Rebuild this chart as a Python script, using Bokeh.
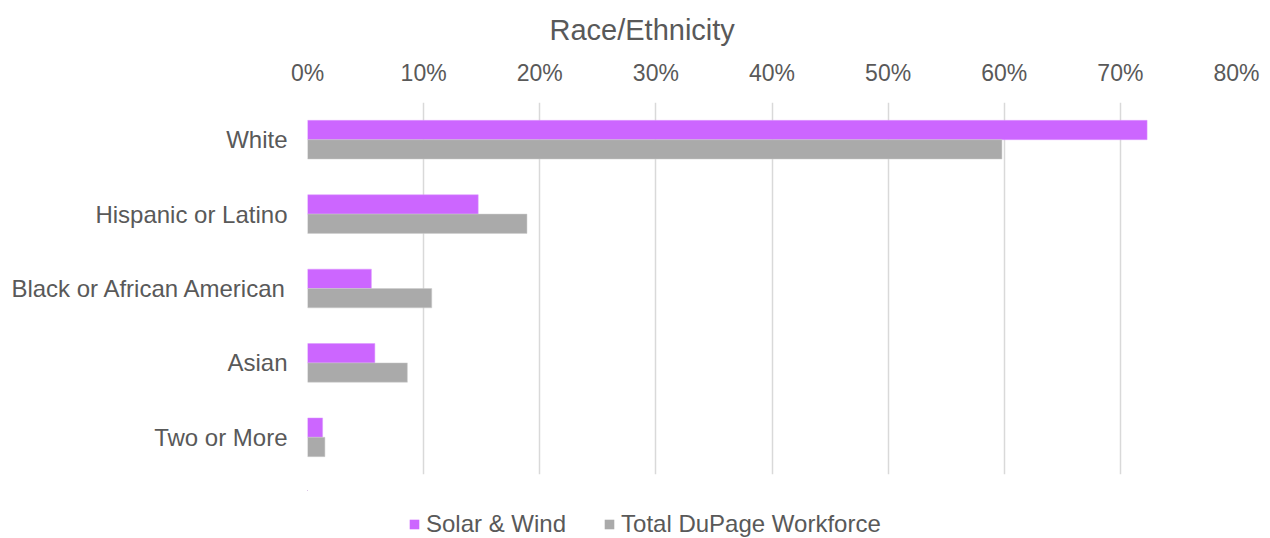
from bokeh.plotting import figure
from bokeh.layouts import column
from bokeh.models import ColumnDataSource, FixedTicker, NumeralTickFormatter, Range1d, Legend, LegendItem
from bokeh.transform import dodge
from bokeh.embed import file_html
from bokeh.resources import INLINE

categories = ["White", "Hispanic or Latino", "Black or African American", "Asian", "Two or More"]
solar_wind = [0.723, 0.147, 0.055, 0.058, 0.013]
total_dupage = [0.598, 0.189, 0.107, 0.086, 0.015]
ticks = [0.0, 0.1, 0.2, 0.3, 0.4, 0.5, 0.6, 0.7, 0.8]
series_names = ["Solar & Wind", "Total DuPage Workforce"]
series_fields = ["solar", "total"]
series_colors = ["#CC66FF", "#AAAAAA"]

src = ColumnDataSource(dict(cat=categories, solar=solar_wind, total=total_dupage))

FONT = "Liberation Sans"
TXT = "#595959"

p = figure(width=1262, height=490, y_range=list(reversed(categories)),
           x_range=Range1d(0, 0.8), x_axis_location="above",
           output_backend="svg", toolbar_location=None,
           min_border_left=307, min_border_right=26, min_border_top=102, min_border_bottom=16)
p.outline_line_color = None
p.title.text = "Race/Ethnicity"
p.title.align = "left"
p.title.offset = 242
p.title.standoff = 22
p.title.text_font = FONT
p.title.text_font_size = "29px"
p.title.text_font_style = "normal"
p.title.text_color = TXT

p.hbar(y=dodge("cat", 0.13, range=p.y_range), right="solar", height=0.26, left=0,
       source=src, fill_color=series_colors[0], line_color="#DD99FF", line_width=0.5)
p.hbar(y=dodge("cat", -0.13, range=p.y_range), right="total", height=0.26, left=0,
       source=src, fill_color=series_colors[1], line_color="#CCCCCC", line_width=0.5)

xa = p.xaxis[0]
xa.ticker = FixedTicker(ticks=ticks)
xa.formatter = NumeralTickFormatter(format="0%")
xa.axis_line_color = None
xa.major_tick_line_color = None
xa.minor_tick_line_color = None
xa.major_label_text_font = FONT
xa.major_label_text_font_size = "23px"
xa.major_label_text_color = TXT
xa.major_label_standoff = 11

ya = p.yaxis[0]
ya.axis_line_color = None
ya.major_tick_line_color = None
ya.minor_tick_line_color = None
ya.major_label_text_font = FONT
ya.major_label_text_font_size = "24px"
ya.major_label_text_color = TXT
ya.major_label_standoff = 14

p.ygrid.grid_line_color = None
p.xgrid.ticker = FixedTicker(ticks=ticks)
p.xgrid.grid_line_color = "#D9D9D9"
p.xgrid.grid_line_width = 1.5

# legend strip below the chart (its bars sit outside the visible range; only the legend shows)
lg = figure(width=1262, height=48, y_range=list(reversed(categories)), x_range=Range1d(1, 2),
            x_axis_type=None, y_axis_type=None,
            output_backend="svg", toolbar_location=None,
            min_border_left=0, min_border_right=0, min_border_top=0, min_border_bottom=0)
lg.outline_line_color = None
lg.xgrid.grid_line_color = None
lg.ygrid.grid_line_color = None
items = []
for name, field, col in zip(series_names, series_fields, series_colors):
    r = lg.hbar(y=dodge("cat", 20, range=lg.y_range), right=field, left=0, height=0,
                source=src, fill_color=col, line_color=None)
    items.append(LegendItem(label=name, renderers=[r]))

legend = Legend(items=items, orientation="horizontal", location=(101, 0))
legend.label_text_font = FONT
legend.label_text_font_size = "24px"
legend.label_text_color = TXT
legend.glyph_width = 12
legend.glyph_height = 12
legend.label_standoff = 6
legend.spacing = 37
legend.border_line_color = None
legend.background_fill_alpha = 0
legend.padding = 0
legend.margin = 0
lg.add_layout(legend, "center")

layout = column(p, lg, spacing=0)
open("out.html", "w").write(file_html(layout, INLINE))
